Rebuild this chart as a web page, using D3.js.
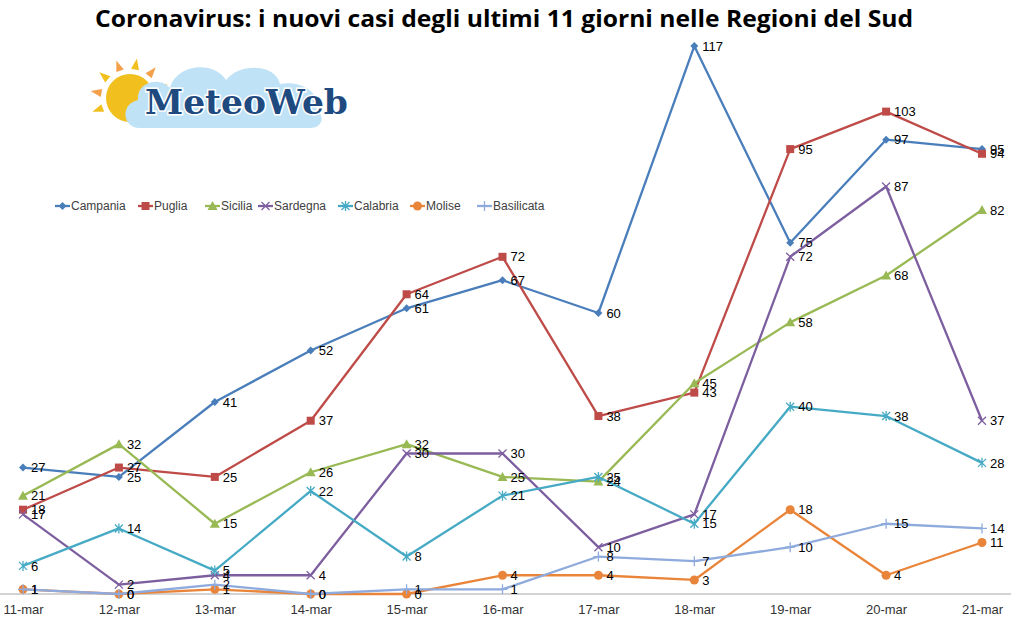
<!DOCTYPE html>
<html>
<head>
<meta charset="utf-8">
<script src="https://cdn.jsdelivr.net/npm/d3@7"></script>
<style>
  body { margin: 0; background: #fff; }
  svg { display: block; }
</style>
</head>
<body>
<div id="fig"></div>
<script>
// days and series
var days = ["11-mar","12-mar","13-mar","14-mar","15-mar","16-mar","17-mar","18-mar","19-mar","20-mar","21-mar"];
var regions = ["Campania","Puglia","Sicilia","Sardegna","Calabria","Molise","Basilicata"];
var campania   = [27, 25, 41, 52, 61, 67, 60, 117, 75, 97, 95];
var puglia     = [18, 27, 25, 37, 64, 72, 38, 43, 95, 103, 94];
var sicilia    = [21, 32, 15, 26, 32, 25, 24, 45, 58, 68, 82];
var sardegna   = [17, 2, 4, 4, 30, 30, 10, 17, 72, 87, 37];
var calabria   = [6, 14, 5, 22, 8, 21, 25, 15, 40, 38, 28];
var molise     = [1, 0, 1, 0, 0, 4, 4, 3, 18, 4, 11];
var basilicata = [1, 0, 2, 0, 1, 1, 8, 7, 10, 15, 14];
var values = [campania, puglia, sicilia, sardegna, calabria, molise, basilicata];

var colors  = ["#4A7EBB", "#BE4B48", "#98B954", "#7D5FA0", "#46AAC5", "#E9853A", "#8FAADC"];
var symbols = ["diamond", "square", "triangle", "x", "asterisk", "circle", "plus"];

var W = 1011, H = 627;
var svg = d3.select("#fig").append("svg")
    .attr("width", W)
    .attr("height", H);

var x = d3.scalePoint().domain(days).range([23, 982]);
var y = d3.scaleLinear().domain([0, 120]).range([594, 32]);

// title
svg.append("text")
    .attr("x", 504).attr("y", 27)
    .attr("text-anchor", "middle")
    .attr("textLength", 818)
    .attr("lengthAdjust", "spacingAndGlyphs")
    .style("font-family", "'Open Sans', 'Liberation Sans', sans-serif")
    .style("font-weight", "bold")
    .style("font-size", "24px")
    .attr("fill", "#000")
    .text("Coronavirus: i nuovi casi degli ultimi 11 giorni nelle Regioni del Sud");

// logo (rough drawing)
var logo = svg.append("g");
var rays = d3.range(9).map(function(i) { return -200 + i * 30; });
logo.selectAll("path.ray")
  .data(rays)
  .enter().append("path")
    .attr("class", "ray")
    .attr("transform", function(a) { return "translate(130,98) rotate(" + a + ")"; })
    .attr("d", "M29,-4 L40,0 L29,4 Z")
    .attr("fill", function(d, i) { return i % 2 ? "#F4A04A" : "#F2C01E"; });
logo.append("circle").attr("cx", 130).attr("cy", 98).attr("r", 24).attr("fill", "#F2C01E");
logo.append("path")
    .attr("d", "M140,128 C122,128 120,104 138,100 C136,82 160,76 170,88 C176,64 214,60 226,80 C240,62 276,64 280,84 C300,80 322,92 316,110 C326,116 322,128 310,128 Z")
    .attr("fill", "#BFE2F6");
logo.append("text")
    .attr("x", 145).attr("y", 114)
    .style("font-family", "'DejaVu Serif', 'Liberation Serif', serif")
    .style("font-weight", "bold")
    .style("font-size", "34px")
    .attr("textLength", 203)
    .attr("lengthAdjust", "spacingAndGlyphs")
    .attr("fill", "#1E4A80")
    .attr("stroke", "#fff")
    .attr("stroke-width", 3)
    .attr("paint-order", "stroke")
    .text("MeteoWeb");

// x axis
var xAxis = svg.append("g")
    .attr("transform", "translate(0,594)")
    .call(d3.axisBottom(x).tickSize(0).tickPadding(11));
xAxis.select(".domain").remove();
xAxis.append("line")
    .attr("x1", 0).attr("x2", 1011)
    .attr("stroke", "#A6A6A6").attr("stroke-width", 1);
xAxis.selectAll("text")
    .style("font-family", "'Liberation Sans', Arial, sans-serif")
    .style("font-size", "13px")
    .attr("fill", "#333");

// markers
function marker(sel, type, c) {
  if (type == "diamond") {
    sel.append("path").attr("d", "M0,-4 L4,0 L0,4 L-4,0 Z").attr("fill", c);
  } else if (type == "square") {
    sel.append("rect").attr("x", -4).attr("y", -4).attr("width", 8).attr("height", 8).attr("fill", c);
  } else if (type == "triangle") {
    sel.append("path").attr("d", "M0,-5 L5,4 L-5,4 Z").attr("fill", c);
  } else if (type == "x") {
    sel.append("path").attr("d", "M-4,-4 L4,4 M-4,4 L4,-4").attr("stroke", c).attr("stroke-width", 1.3);
  } else if (type == "asterisk") {
    sel.append("path").attr("d", "M-4,-4 L4,4 M-4,4 L4,-4 M0,-5 L0,5").attr("stroke", c).attr("stroke-width", 1.3);
  } else if (type == "circle") {
    sel.append("circle").attr("r", 4.5).attr("fill", c);
  } else if (type == "plus") {
    sel.append("path").attr("d", "M-5,0 L5,0 M0,-5 L0,5").attr("stroke", c).attr("stroke-width", 1.3);
  }
}

var line = d3.line()
    .x(function(d, i) { return x(days[i]); })
    .y(function(d) { return y(d); });

var series = svg.append("g").selectAll("g")
  .data(regions)
  .enter().append("g");

series.append("path")
    .attr("d", function(r, k) { return line(values[k]); })
    .attr("fill", "none")
    .attr("stroke", function(r, k) { return colors[k]; })
    .attr("stroke-width", 2.3)
    .attr("stroke-linejoin", "round");

series.each(function(r, k) {
  var g = d3.select(this);
  values[k].forEach(function(v, i) {
    var m = g.append("g").attr("transform", "translate(" + x(days[i]) + "," + y(v) + ")");
    marker(m, symbols[k], colors[k]);
  });
});

// data labels on top
var labels = svg.append("g")
    .style("font-family", "'Liberation Sans', Arial, sans-serif")
    .style("font-size", "13px")
    .attr("fill", "#000");
regions.forEach(function(r, k) {
  values[k].forEach(function(v, i) {
    labels.append("text")
      .attr("x", x(days[i]) + 8)
      .attr("y", y(v))
      .attr("dy", "0.36em")
      .text(v);
  });
});

// legend
var legX = [55, 138, 205, 258, 338, 410, 477];
var legend = svg.append("g").attr("transform", "translate(0,206)");
regions.forEach(function(r, k) {
  var g = legend.append("g").attr("transform", "translate(" + legX[k] + ",0)");
  g.append("line").attr("x1", 0).attr("x2", 15)
    .attr("stroke", colors[k]).attr("stroke-width", 2.3);
  var m = g.append("g").attr("transform", "translate(7.5,0)");
  marker(m, symbols[k], colors[k]);
  g.append("text")
    .attr("x", 16).attr("dy", "0.35em")
    .style("font-family", "'Liberation Sans', Arial, sans-serif")
    .style("font-size", "12px")
    .attr("fill", "#404040")
    .text(r);
});
</script>
</body>
</html>
